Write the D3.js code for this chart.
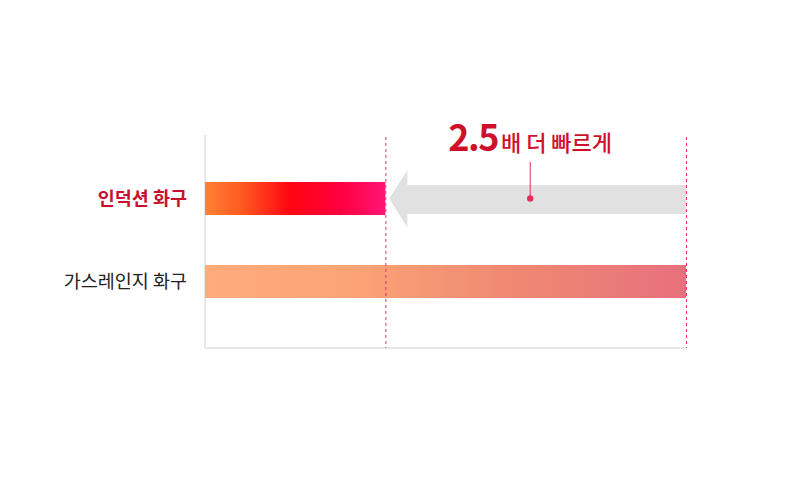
<!DOCTYPE html>
<html>
<head>
<meta charset="utf-8">
<script src="https://cdn.jsdelivr.net/npm/d3@7"></script>
<style>
  body { margin: 0; background: #fff; }
  svg { display: block; font-family: "Noto Sans CJK KR", "Noto Sans", sans-serif; }
</style>
</head>
<body>
<div id="chart"></div>
<script>
// 가열 시간 (가스레인지 = 100 기준)
const categories = ['인덕션 화구', '가스레인지 화구'];
const values = [37.5, 100];
const speedup = '2.5';
const speedupText = '배 더 빠르게';

const width = 800, height = 480;
const margin = {top: 135, left: 205, right: 114, bottom: 132};

const svg = d3.select('#chart').append('svg')
    .attr('width', width)
    .attr('height', height);

const x = d3.scaleLinear()
    .domain([0, d3.max(values)])
    .range([margin.left, width - margin.right]);

const y = d3.scaleBand()
    .domain(categories)
    .range([140, 340])
    .paddingInner(0.602)
    .paddingOuter(0.506);

const defs = svg.append('defs');
const grads = [
    [['0%', '#ff8232'], ['20%', '#ff5a22'], ['47%', '#ff0612'], ['75%', '#ff003e'], ['100%', '#ff1678']],
    [['0%', '#ffab7c'], ['30%', '#fca476'], ['65%', '#ef8872'], ['100%', '#e8707e']]
];
grads.forEach((stops, i) => {
    const g = defs.append('linearGradient')
        .attr('id', 'grad' + i)
        .attr('x1', '0%').attr('x2', '100%');
    stops.forEach(s => g.append('stop').attr('offset', s[0]).attr('stop-color', s[1]));
});

const bottom = height - margin.bottom;

// 축선
svg.append('line')
    .attr('x1', margin.left).attr('x2', margin.left)
    .attr('y1', margin.top).attr('y2', bottom)
    .attr('stroke', '#d0d0d0');
svg.append('line')
    .attr('x1', margin.left).attr('x2', x(d3.max(values)))
    .attr('y1', bottom).attr('y2', bottom)
    .attr('stroke', '#d0d0d0');

// 회색 화살표
const yi = y(categories[0]), bh = y.bandwidth();
const x0 = x(values[0]), x1 = x(values[1]);
const tip = x0 + 4, headBase = x0 + 22;
svg.append('path')
    .attr('d', `M${tip},${yi + bh / 2} L${headBase},${yi - 12} L${headBase},${yi + 3}
        L${x1},${yi + 3} L${x1},${yi + bh - 1} L${headBase},${yi + bh - 1}
        L${headBase},${yi + bh + 13} Z`)
    .attr('fill', '#e2e1e2');

// 막대
svg.selectAll('rect.bar')
    .data(values)
    .join('rect')
    .attr('class', 'bar')
    .attr('x', x(0))
    .attr('y', (d, i) => y(categories[i]))
    .attr('width', d => x(d) - x(0))
    .attr('height', bh)
    .attr('fill', (d, i) => `url(#grad${i})`);

// 점선
svg.selectAll('line.dash')
    .data(values)
    .join('line')
    .attr('class', 'dash')
    .attr('x1', d => x(d) + 0.5).attr('x2', d => x(d) + 0.5)
    .attr('y1', margin.top + 2).attr('y2', bottom)
    .attr('stroke', '#e8306a')
    .attr('stroke-width', 1)
    .attr('stroke-dasharray', '3,3');

// 라벨
svg.selectAll('text.cat')
    .data(categories)
    .join('text')
    .attr('class', 'cat')
    .attr('x', 187)
    .attr('y', d => y(d) + bh / 2)
    .attr('dy', '0.36em')
    .attr('text-anchor', 'end')
    .style('font-size', '18.5px')
    .style('font-weight', (d, i) => i === 0 ? 700 : 400)
    .attr('fill', (d, i) => i === 0 ? '#c8102e' : '#222')
    .text(d => d);

// 주석
const cx = (x0 + x1) / 2 - 5.5;
svg.append('line')
    .attr('x1', cx).attr('x2', cx)
    .attr('y1', 162).attr('y2', yi + bh / 2)
    .attr('stroke', '#e0305a');
svg.append('circle')
    .attr('cx', cx).attr('cy', yi + bh / 2)
    .attr('r', 3.2)
    .attr('fill', '#e0305a');

const t = svg.append('text')
    .attr('x', cx)
    .attr('y', 151)
    .attr('text-anchor', 'middle')
    .attr('fill', '#d0102a');
t.append('tspan')
    .style('font-size', '36px')
    .style('font-weight', 700)
    .style('letter-spacing', '-1.5px')
    .text(speedup);
t.append('tspan')
    .attr('dx', 3)
    .style('font-size', '22px')
    .style('font-weight', 500)
    .text(speedupText);
</script>
</body>
</html>
